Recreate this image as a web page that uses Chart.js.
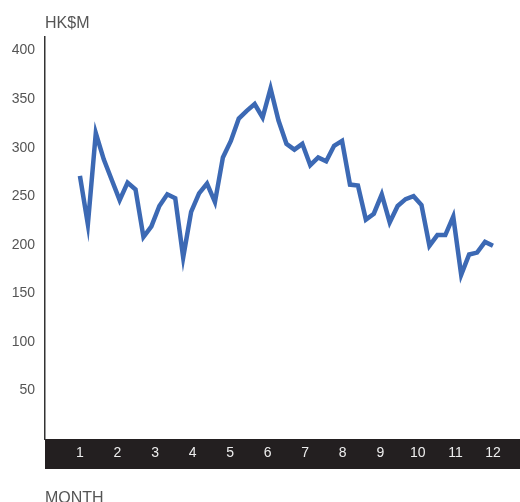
<!DOCTYPE html>
<html lang="en">

<head>
    <meta charset="UTF-8">
    <title>HK$M by month</title>
    <script src="https://cdn.jsdelivr.net/npm/chart.js"></script>
    <style>
        html, body { margin: 0; padding: 0; background: #fff; }
        #wrap { width: 520px; height: 502px; }
    </style>
</head>

<body>
    <div id="wrap"><canvas id="line-chart"></canvas></div>

    <script>
        // weekly values, HK$M
        const values = [271, 221, 315, 288, 267, 246, 264, 257, 208, 219, 240, 252, 248, 187, 234, 253, 263, 244, 290, 307,
            330, 338, 345, 331, 361, 328, 304, 298, 304, 282, 290, 286, 302, 307, 262, 261, 226, 232, 252, 223,
            240, 247, 250, 241, 199, 210, 210, 229, 169, 190, 192, 203, 199];
        const months = [1, 2, 3, 4, 5, 6, 7, 8, 9, 10, 11, 12];
        const yTicks = [50, 100, 150, 200, 250, 300, 350, 400];
        const yTitle = 'HK$M';
        const xTitle = 'MONTH';

        // spread the weeks over months 1..12
        const points = values.map((v, i) => ({ x: 1 + i * 11 / (values.length - 1), y: v }));

        const textColor = '#555';
        const fontFamily = "'Liberation Sans', Arial, sans-serif";

        const titles = {
            id: 'titles',
            afterDraw(chart) {
                const ctx = chart.ctx;
                const area = chart.chartArea;
                ctx.save();
                ctx.fillStyle = textColor;
                ctx.font = '16px ' + fontFamily;
                ctx.textAlign = 'left';
                ctx.textBaseline = 'alphabetic';
                ctx.fillText(yTitle, area.left, area.top - 9);
                ctx.fillText(xTitle, area.left, chart.scales.x.bottom + 34);
                ctx.restore();
            }
        };

        new Chart(document.getElementById('line-chart'), {
            type: 'line',
            data: {
                datasets: [{
                    data: points,
                    borderColor: '#3c69b4',
                    borderWidth: 4.5,
                    pointRadius: 0,
                    tension: 0,
                    fill: false
                }]
            },
            options: {
                responsive: true,
                maintainAspectRatio: false,
                animation: false,
                layout: { padding: { top: 37, bottom: 33, left: 0, right: 0 } },
                plugins: {
                    legend: { display: false },
                    tooltip: { enabled: false }
                },
                scales: {
                    x: {
                        type: 'linear',
                        min: 0.07,
                        max: 12.72,
                        backgroundColor: '#231f20',
                        grid: { display: false, drawTicks: false },
                        border: { display: false },
                        ticks: {
                            color: '#eeeeee',
                            padding: 6,
                            font: { size: 14, family: fontFamily }
                        },
                        afterBuildTicks: s => { s.ticks = months.map(m => ({ value: m })); },
                        afterFit: s => { s.height = 30; }
                    },
                    y: {
                        min: 0,
                        max: 414,
                        grid: { display: false, drawTicks: false },
                        border: { display: true, color: '#333', width: 1.5 },
                        ticks: {
                            color: textColor,
                            padding: 10,
                            font: { size: 14, family: fontFamily }
                        },
                        afterBuildTicks: s => { s.ticks = yTicks.map(v => ({ value: v })); },
                        afterFit: s => { s.width = 45; }
                    }
                }
            },
            plugins: [titles]
        });
    </script>
</body>

</html>
